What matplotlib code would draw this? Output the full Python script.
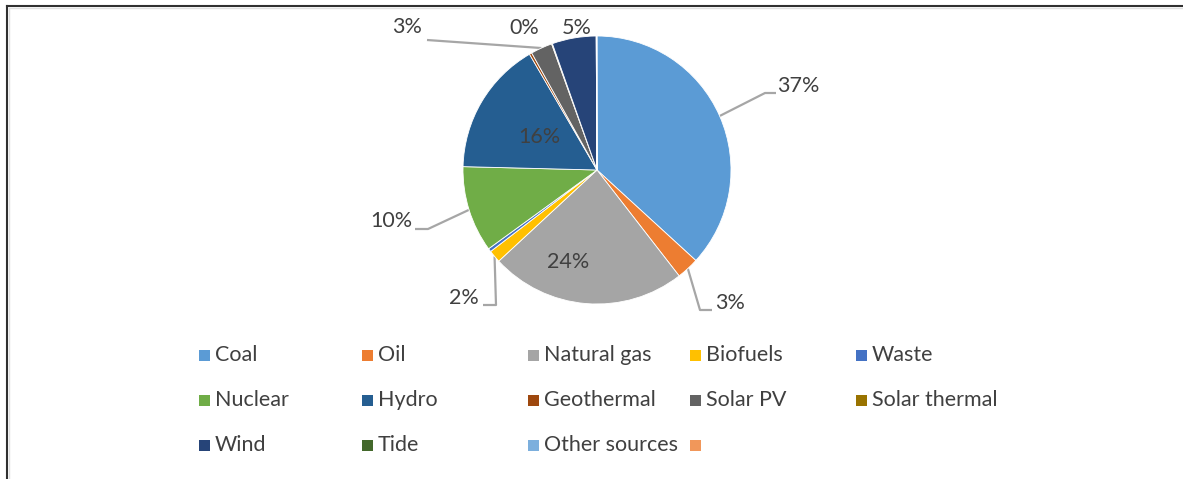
import numpy as np
import matplotlib.pyplot as plt
from matplotlib.patches import Rectangle
from matplotlib.lines import Line2D

plt.rcParams['font.family'] = ['Lato', 'DejaVu Sans']

categories = ['Coal', 'Oil', 'Natural gas', 'Biofuels', 'Waste', 'Nuclear', 'Hydro',
              'Geothermal', 'Solar PV', 'Solar thermal', 'Wind', 'Tide', 'Other sources', '']
shares = [36.8, 2.7, 23.6, 1.5, 0.4, 10.4, 16.2, 0.3, 2.6, 0.1, 5.3, 0.05, 0.05, 0.0]
labels = ['37%', '3%', '24%', '2%', '', '10%', '16%', '', '3%', '0%', '5%', '', '', '']
colors = ['#5B9BD5', '#ED7D31', '#A5A5A5', '#FFC000', '#4472C4', '#70AD47', '#255E91',
          '#9E480E', '#636363', '#997300', '#264478', '#43682B', '#7CAFDD', '#F1975A']

W, H = 1183, 479
TXT = '#404040'
LEAD = '#A6A6A6'
FS = 15.5

fig = plt.figure(figsize=(W / 100, H / 100), dpi=100)
ax = fig.add_axes([0, 0, 1, 1])

cx, cy, r = 597, H - 170, 134
pie_vals = [v for v in shares if v > 0]
wedges, _ = ax.pie(pie_vals, colors=colors[:len(pie_vals)], startangle=90, counterclock=False,
                   center=(cx, cy), radius=r, frame=True,
                   wedgeprops=dict(linewidth=0.6, edgecolor='white'))
ax.set_xlim(0, W)
ax.set_ylim(0, H)
ax.set_aspect('equal')
ax.axis('off')

# label placement (pixel coords from the top-left), leader elbow points
label_pos = {
    'Coal':        ((777, 86), 'left', [(765, 93), (776, 93)]),
    'Oil':         ((715, 303), 'left', [(700, 310), (712, 310)]),
    'Natural gas': ((568, 262), 'center', None),
    'Biofuels':    ((479, 298), 'right', [(496, 305), (483, 305)]),
    'Nuclear':     ((412, 221), 'right', [(428, 229), (415, 229)]),
    'Hydro':       ((539, 137), 'center', None),
    'Solar PV':    ((422, 27), 'right', [(427, 40)]),
    'Solar thermal': ((524, 28), 'center', None),
    'Wind':        ((577, 28), 'center', None),
}

for w, name, lab in zip(wedges, categories, labels):
    if not lab or name not in label_pos:
        continue
    (tx, ty), ha, elbow = label_pos[name]
    ax.text(tx, H - ty, lab, ha=ha, va='center', fontsize=FS, color=TXT)
    if elbow:
        mid = np.deg2rad((w.theta1 + w.theta2) / 2)
        pts = [(cx + r * np.cos(mid), cy + r * np.sin(mid))] + [(x, H - y) for x, y in elbow]
        xs, ys = zip(*pts)
        ax.plot(xs, ys, color=LEAD, lw=1.6, solid_capstyle='butt', zorder=0.5)

# legend, row-major in 5 columns
col_x = [199, 362, 528, 690, 856]
row_y = [355, 400, 445]
sq = 11
for i, (name, c) in enumerate(zip(categories, colors)):
    x = col_x[i % 5]
    y = H - row_y[i // 5]
    ax.add_patch(Rectangle((x, y - sq / 2), sq, sq, facecolor=c, edgecolor='none'))
    if name:
        ax.text(x + sq + 5, y, name, ha='left', va='center', fontsize=FS, color=TXT)

# screenshot border
fig.add_artist(Line2D([7, W], [H - 6, H - 6], transform=None, color='#303030', lw=1.5))
fig.add_artist(Line2D([7, 7], [0, H - 6], transform=None, color='#303030', lw=1.5))
fig.add_artist(Line2D([9, W], [H - 8, H - 8], transform=None, color='#E0E0E0', lw=1))
fig.add_artist(Line2D([9, 9], [0, H - 8], transform=None, color='#E0E0E0', lw=1))

fig.savefig('out.png', dpi=100, facecolor='white')
